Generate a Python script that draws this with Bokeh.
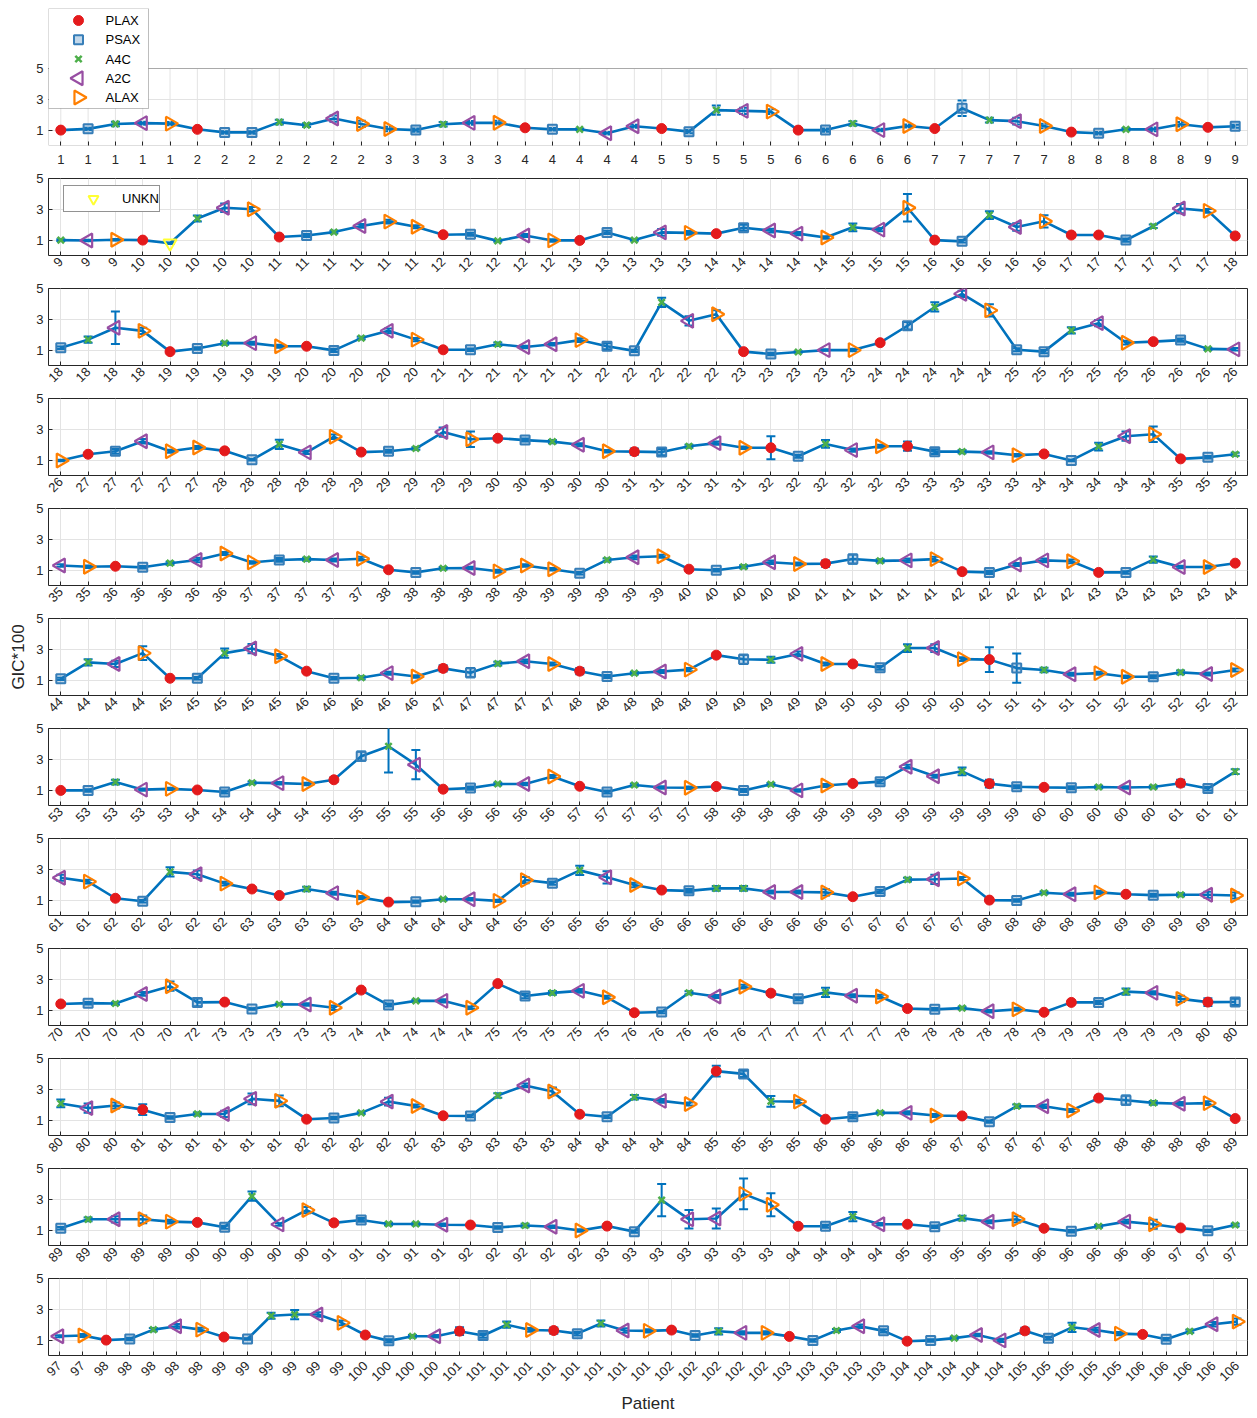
import math

from bokeh.embed import file_html
from bokeh.layouts import column
from bokeh.models import (BoxAnnotation, ColumnDataSource, FixedTicker, Label,
                          Legend, LegendItem, Range1d, TeeHead, Whisker)
from bokeh.plotting import figure
from bokeh.resources import INLINE

FONT = "Liberation Sans"
TEXT = "#262626"
LINE_BLUE = "#0072BD"
GRID = "#e3e3e3"

# ---------------------------------------------------------------------------
# GIC*100 per clip, one block per strip.  patients_* are the tick labels,
# views_* the echo view of each clip, gic_* the value and err_* the half
# length of its error bar.
# ---------------------------------------------------------------------------
patients_01 = "1 1 1 1 1 2 2 2 2 2 2 2 3 3 3 3 3 4 4 4 4 4 5 5 5 5 5 6 6 6 6 6 7 7 7 7 7 8 8 8 8 8 9 9".split()
views_01 = ("PLAX PSAX A4C A2C ALAX PLAX PSAX PSAX A4C A4C A2C ALAX ALAX PSAX A4C A2C ALAX "
            "PLAX PSAX A4C A2C A2C PLAX PSAX A4C A2C ALAX PLAX PSAX A4C A2C ALAX "
            "PLAX PSAX A4C A2C ALAX PLAX PSAX A4C A2C ALAX PLAX PSAX").split()
gic_01 = [1.0, 1.08, 1.4, 1.45, 1.42, 1.05, 0.85, 0.85, 1.52, 1.32, 1.75, 1.4, 1.07, 1.0, 1.38,
          1.47, 1.48, 1.15, 1.05, 1.05, 0.8, 1.25, 1.1, 0.9, 2.3, 2.25, 2.2, 1.0, 1.0, 1.43,
          1.0, 1.27, 1.1, 2.42, 1.65, 1.58, 1.27, 0.87, 0.8, 1.05, 1.05, 1.38, 1.18, 1.25]
err_01 = [0.05, 0.08, 0.15, 0.1, 0.1, 0.08, 0.08, 0.08, 0.15, 0.12, 0.2, 0.2, 0.15, 0.1, 0.15,
          0.12, 0.12, 0.06, 0.08, 0.05, 0.08, 0.1, 0.06, 0.1, 0.3, 0.2, 0.15, 0.06, 0.1, 0.15,
          0.08, 0.1, 0.06, 0.5, 0.15, 0.22, 0.15, 0.05, 0.08, 0.08, 0.12, 0.15, 0.06, 0.1]

patients_02 = "9 9 9 10 10 10 10 10 11 11 11 11 11 11 12 12 12 12 12 13 13 13 13 13 14 14 14 14 14 15 15 15 16 16 16 16 16 17 17 17 17 17 17 18".split()
views_02 = ("A4C A2C ALAX PLAX UNKN A4C A2C ALAX PLAX PSAX A4C A2C ALAX ALAX "
            "PLAX PSAX A4C A2C ALAX PLAX PSAX A4C A2C ALAX PLAX PSAX A2C A2C ALAX "
            "A4C A2C ALAX PLAX PSAX A4C A2C ALAX PLAX PLAX PSAX A4C A2C ALAX PLAX").split()
gic_02 = [1.0, 0.97, 1.02, 1.0, 0.8, 2.4, 3.1, 3.0, 1.2, 1.3, 1.52, 1.92, 2.2, 1.87, 1.35,
          1.38, 0.95, 1.3, 0.98, 0.98, 1.5, 1.0, 1.5, 1.47, 1.42, 1.8, 1.62, 1.42, 1.17, 1.83,
          1.68, 3.1, 1.0, 0.92, 2.62, 1.85, 2.22, 1.33, 1.33, 1.0, 1.9, 3.05, 2.9, 1.27]
err_02 = [0.06, 0.05, 0.05, 0.05, 0.05, 0.2, 0.28, 0.15, 0.08, 0.1, 0.08, 0.12, 0.12, 0.1, 0.08,
          0.1, 0.05, 0.1, 0.08, 0.05, 0.1, 0.05, 0.22, 0.12, 0.08, 0.2, 0.12, 0.1, 0.08, 0.25,
          0.1, 0.9, 0.05, 0.08, 0.25, 0.25, 0.4, 0.15, 0.1, 0.1, 0.12, 0.3, 0.12, 0.1]

patients_03 = "18 18 18 18 19 19 19 19 19 20 20 20 20 20 21 21 21 21 21 21 22 22 22 22 22 23 23 23 23 23 24 24 24 24 24 25 25 25 25 25 26 26 26 26".split()
views_03 = ("PSAX A4C A2C ALAX PLAX PSAX A4C A2C ALAX PLAX PSAX A4C A2C ALAX "
            "PLAX PSAX A4C A2C A2C ALAX PSAX PSAX A4C A2C ALAX PLAX PSAX A4C A2C ALAX "
            "PLAX PSAX A4C A2C ALAX PSAX PSAX A4C A2C ALAX PLAX PSAX A4C A2C").split()
gic_03 = [1.15, 1.68, 2.45, 2.25, 0.9, 1.1, 1.45, 1.45, 1.25, 1.25, 0.98, 1.78, 2.25, 1.68, 1.02,
          1.02, 1.38, 1.2, 1.38, 1.65, 1.25, 0.95, 4.1, 2.9, 3.33, 0.9, 0.75, 0.88, 1.0, 1.0,
          1.48, 2.58, 3.8, 4.65, 3.58, 1.02, 0.9, 2.28, 2.75, 1.48, 1.55, 1.65, 1.08, 1.05]
err_03 = [0.08, 0.2, 1.05, 0.2, 0.05, 0.08, 0.1, 0.1, 0.1, 0.08, 0.1, 0.08, 0.15, 0.1, 0.05,
          0.08, 0.12, 0.08, 0.08, 0.12, 0.2, 0.08, 0.3, 0.3, 0.25, 0.05, 0.08, 0.05, 0.05, 0.08,
          0.1, 0.25, 0.3, 0.2, 0.4, 0.1, 0.1, 0.2, 0.2, 0.12, 0.08, 0.1, 0.08, 0.08]

patients_04 = "26 27 27 27 27 27 28 28 28 28 28 29 29 29 29 29 30 30 30 30 30 31 31 31 31 31 32 32 32 32 32 33 33 33 33 33 34 34 34 34 34 35 35 35".split()
views_04 = ("ALAX PLAX PSAX A2C ALAX ALAX PLAX PSAX A4C A2C ALAX PLAX PSAX A4C A2C ALAX "
            "PLAX PSAX A4C A2C ALAX PLAX PSAX A4C A2C ALAX PLAX PSAX A4C A2C ALAX "
            "PLAX PSAX A4C A2C ALAX PLAX PSAX A4C A2C ALAX PLAX PSAX A4C").split()
gic_04 = [0.97, 1.38, 1.57, 2.22, 1.57, 1.82, 1.6, 1.02, 2.02, 1.5, 2.52, 1.52, 1.57, 1.75, 2.82,
          2.35, 2.42, 2.3, 2.2, 2.0, 1.57, 1.55, 1.52, 1.9, 2.1, 1.8, 1.8, 1.25, 2.05, 1.65,
          1.9, 1.9, 1.55, 1.55, 1.5, 1.32, 1.4, 0.98, 1.88, 2.55, 2.68, 1.08, 1.18, 1.38]
err_04 = [0.05, 0.1, 0.15, 0.15, 0.1, 0.1, 0.12, 0.05, 0.3, 0.1, 0.15, 0.12, 0.1, 0.08, 0.3,
          0.5, 0.15, 0.1, 0.1, 0.1, 0.08, 0.2, 0.2, 0.1, 0.1, 0.08, 0.75, 0.1, 0.25, 0.1,
          0.1, 0.3, 0.15, 0.1, 0.08, 0.08, 0.1, 0.05, 0.25, 0.3, 0.5, 0.05, 0.08, 0.1]

patients_05 = "35 35 36 36 36 36 36 37 37 37 37 37 38 38 38 38 38 38 39 39 39 39 39 40 40 40 40 40 41 41 41 41 41 42 42 42 42 42 43 43 43 43 43 44".split()
views_05 = ("A2C ALAX PLAX PSAX A4C A2C ALAX ALAX PSAX A4C A2C ALAX "
            "PLAX PSAX A4C A2C ALAX ALAX ALAX PSAX A4C A2C ALAX PLAX PSAX A4C A2C ALAX "
            "PLAX PSAX A4C A2C ALAX PLAX PSAX A2C A2C ALAX PLAX PSAX A4C A2C ALAX PLAX").split()
gic_05 = [1.3, 1.22, 1.25, 1.18, 1.45, 1.66, 2.08, 1.5, 1.66, 1.71, 1.66, 1.74, 1.02, 0.85, 1.12,
          1.14, 0.92, 1.3, 1.06, 0.8, 1.66, 1.83, 1.9, 1.06, 0.99, 1.22, 1.51, 1.4, 1.42, 1.72,
          1.6, 1.63, 1.71, 0.9, 0.85, 1.36, 1.63, 1.57, 0.85, 0.85, 1.68, 1.2, 1.2, 1.45]
err_05 = [0.08, 0.08, 0.05, 0.08, 0.1, 0.15, 0.1, 0.08, 0.12, 0.1, 0.1, 0.12, 0.06, 0.08, 0.08,
          0.08, 0.1, 0.08, 0.08, 0.08, 0.1, 0.12, 0.1, 0.05, 0.08, 0.1, 0.12, 0.1, 0.2, 0.3,
          0.1, 0.12, 0.15, 0.06, 0.1, 0.1, 0.12, 0.12, 0.06, 0.08, 0.2, 0.08, 0.1, 0.1]

patients_06 = "44 44 44 44 45 45 45 45 45 46 46 46 46 46 47 47 47 47 47 48 48 48 48 48 49 49 49 49 49 50 50 50 50 50 51 51 51 51 51 52 52 52 52 52".split()
views_06 = ("PSAX A4C A2C ALAX PLAX PSAX A4C A2C ALAX PLAX PSAX A4C A2C ALAX "
            "PLAX PSAX A4C A2C ALAX PLAX PSAX A4C A2C ALAX PLAX PSAX A4C A2C ALAX "
            "PLAX PSAX A4C A2C ALAX PLAX PSAX A4C A2C ALAX ALAX PSAX A4C A2C ALAX").split()
gic_06 = [1.08, 2.15, 2.05, 2.75, 1.12, 1.12, 2.75, 3.05, 2.55, 1.58, 1.12, 1.15, 1.45, 1.23, 1.76,
          1.48, 2.07, 2.22, 2.05, 1.58, 1.23, 1.45, 1.56, 1.68, 2.62, 2.35, 2.32, 2.7, 2.05, 2.05,
          1.8, 3.08, 3.08, 2.36, 2.33, 1.78, 1.66, 1.38, 1.45, 1.22, 1.22, 1.5, 1.4, 1.66]
err_06 = [0.08, 0.2, 0.2, 0.45, 0.05, 0.08, 0.3, 0.3, 0.15, 0.1, 0.08, 0.1, 0.1, 0.08, 0.2,
          0.3, 0.12, 0.12, 0.1, 0.2, 0.1, 0.08, 0.1, 0.1, 0.12, 0.3, 0.2, 0.15, 0.1, 0.12,
          0.12, 0.25, 0.25, 0.12, 0.8, 0.95, 0.15, 0.1, 0.1, 0.08, 0.1, 0.12, 0.1, 0.1]

patients_07 = "53 53 53 53 53 54 54 54 54 54 55 55 55 55 56 56 56 56 56 57 57 57 57 57 58 58 58 58 58 59 59 59 59 59 59 59 60 60 60 60 60 61 61 61".split()
views_07 = ("PLAX PSAX A4C A2C ALAX PLAX PSAX A4C A2C ALAX PLAX PSAX A4C A2C "
            "PLAX PSAX A4C A2C ALAX PLAX PSAX A4C A2C ALAX PLAX PSAX A4C A2C ALAX "
            "PLAX PSAX A2C A2C A4C PLAX PSAX PLAX PSAX A4C A2C A4C PLAX PSAX A4C").split()
gic_07 = [0.98, 0.98, 1.52, 1.03, 1.08, 1.01, 0.88, 1.48, 1.45, 1.4, 1.67, 3.2, 3.85, 2.65, 1.06,
          1.13, 1.4, 1.4, 1.88, 1.25, 0.88, 1.33, 1.17, 1.15, 1.23, 0.97, 1.38, 0.98, 1.3, 1.43,
          1.55, 2.52, 1.9, 2.22, 1.42, 1.22, 1.18, 1.15, 1.2, 1.17, 1.2, 1.45, 1.1, 2.2]
err_07 = [0.05, 0.08, 0.15, 0.08, 0.08, 0.05, 0.1, 0.08, 0.08, 0.08, 0.15, 0.3, 1.7, 0.95, 0.06,
          0.1, 0.08, 0.08, 0.1, 0.08, 0.1, 0.08, 0.08, 0.08, 0.08, 0.1, 0.08, 0.08, 0.1, 0.1,
          0.12, 0.12, 0.1, 0.25, 0.25, 0.1, 0.06, 0.1, 0.08, 0.08, 0.08, 0.22, 0.12, 0.15]

patients_08 = "61 61 62 62 62 62 62 63 63 63 63 63 64 64 64 64 64 65 65 65 65 65 66 66 66 66 66 66 66 67 67 67 67 67 68 68 68 68 68 69 69 69 69 69".split()
views_08 = ("A2C ALAX PLAX PSAX A4C A2C ALAX PLAX PLAX A4C A2C ALAX PLAX PSAX A4C A2C ALAX "
            "ALAX PSAX A4C A2C ALAX PLAX PSAX A4C A4C A2C A2C ALAX PLAX PSAX A4C A2C ALAX "
            "PLAX PSAX A4C A2C ALAX PLAX PSAX A4C A2C ALAX").split()
gic_08 = [2.45, 2.2, 1.12, 0.92, 2.83, 2.68, 2.07, 1.72, 1.3, 1.72, 1.45, 1.17, 0.87, 0.9, 1.06,
          1.06, 0.95, 2.3, 2.1, 2.93, 2.48, 1.98, 1.65, 1.6, 1.76, 1.76, 1.53, 1.53, 1.5, 1.22,
          1.56, 2.33, 2.35, 2.4, 1.0, 0.98, 1.48, 1.38, 1.5, 1.38, 1.32, 1.35, 1.35, 1.3]
err_08 = [0.2, 0.12, 0.06, 0.08, 0.3, 0.25, 0.12, 0.1, 0.06, 0.15, 0.1, 0.1, 0.05, 0.08, 0.08,
          0.08, 0.08, 0.2, 0.1, 0.3, 0.4, 0.15, 0.08, 0.12, 0.15, 0.15, 0.1, 0.1, 0.2, 0.06,
          0.12, 0.12, 0.3, 0.1, 0.08, 0.08, 0.08, 0.1, 0.1, 0.1, 0.1, 0.1, 0.2, 0.2]

patients_09 = "70 70 70 70 70 72 73 73 73 73 73 74 74 74 74 74 75 75 75 75 75 76 76 76 76 76 77 77 77 77 77 78 78 78 78 78 79 79 79 79 79 79 80 80".split()
views_09 = ("PLAX PSAX A4C A2C ALAX PSAX PLAX PSAX A4C A2C ALAX PLAX PSAX A4C A2C ALAX "
            "PLAX PSAX A4C A2C ALAX PLAX PSAX A4C A2C ALAX PLAX PSAX A4C A2C ALAX "
            "PLAX PSAX A4C A2C ALAX PLAX PLAX PSAX A4C A2C ALAX PLAX PSAX").split()
gic_09 = [1.4, 1.45, 1.43, 2.05, 2.55, 1.5, 1.52, 1.07, 1.38, 1.36, 1.15, 2.3, 1.33, 1.6, 1.6,
          1.15, 2.72, 1.92, 2.12, 2.25, 1.83, 0.83, 0.88, 2.13, 1.88, 2.52, 2.1, 1.73, 2.15, 1.93,
          1.88, 1.1, 1.05, 1.13, 0.93, 1.05, 0.86, 1.5, 1.5, 2.2, 2.12, 1.73, 1.52, 1.53]
err_09 = [0.1, 0.08, 0.08, 0.12, 0.3, 0.25, 0.1, 0.05, 0.05, 0.08, 0.15, 0.1, 0.1, 0.08, 0.1,
          0.08, 0.12, 0.15, 0.12, 0.12, 0.1, 0.05, 0.08, 0.1, 0.1, 0.12, 0.1, 0.1, 0.3, 0.1,
          0.12, 0.08, 0.08, 0.08, 0.08, 0.1, 0.05, 0.1, 0.1, 0.2, 0.1, 0.2, 0.25, 0.2]

patients_10 = "80 80 80 81 81 81 81 81 81 82 82 82 82 82 83 83 83 83 83 84 84 84 84 84 85 85 85 85 86 86 86 86 86 87 87 87 87 87 88 88 88 88 88 89".split()
views_10 = ("A4C A2C ALAX PLAX PSAX A4C A2C A2C ALAX PLAX PSAX A4C A2C ALAX "
            "PLAX PSAX A4C A2C ALAX PLAX PSAX A4C A2C ALAX PLAX PSAX A4C ALAX "
            "PLAX PSAX A4C A2C ALAX PLAX PSAX A4C A2C ALAX PLAX PSAX A4C A2C ALAX PLAX").split()
gic_10 = [2.08, 1.78, 1.95, 1.68, 1.17, 1.4, 1.4, 2.38, 2.25, 1.06, 1.14, 1.47, 2.2, 1.92, 1.28,
          1.27, 2.6, 3.25, 2.86, 1.38, 1.22, 2.48, 2.25, 2.05, 4.18, 4.0, 2.22, 2.2, 1.06, 1.22,
          1.48, 1.47, 1.3, 1.27, 0.9, 1.9, 1.9, 1.62, 2.43, 2.29, 2.12, 2.06, 2.1, 1.1]
err_10 = [0.25, 0.3, 0.2, 0.35, 0.08, 0.1, 0.2, 0.35, 0.35, 0.05, 0.08, 0.08, 0.25, 0.1, 0.06,
          0.08, 0.15, 0.12, 0.25, 0.06, 0.08, 0.15, 0.12, 0.1, 0.35, 0.2, 0.35, 0.12, 0.06, 0.12,
          0.08, 0.1, 0.1, 0.08, 0.08, 0.12, 0.12, 0.1, 0.15, 0.3, 0.12, 0.12, 0.12, 0.06]

patients_11 = "89 89 89 89 89 90 90 90 90 90 91 91 91 91 91 92 92 92 92 92 93 93 93 93 93 93 93 94 94 94 94 95 95 95 95 95 96 96 96 96 96 97 97 97".split()
views_11 = ("PSAX A4C A2C ALAX ALAX PLAX PSAX A4C A2C ALAX PLAX PSAX A4C A4C A2C "
            "PLAX PSAX A4C A2C ALAX PLAX PSAX A4C A2C A2C ALAX ALAX PLAX PSAX A4C A2C "
            "PLAX PSAX A4C A2C ALAX PLAX PSAX A4C A2C ALAX PLAX PSAX A4C").split()
gic_11 = [1.12, 1.7, 1.7, 1.7, 1.55, 1.5, 1.18, 3.2, 1.37, 2.3, 1.47, 1.66, 1.4, 1.4, 1.35,
          1.33, 1.17, 1.3, 1.22, 0.97, 1.26, 0.9, 2.95, 1.7, 1.75, 3.35, 2.65, 1.25, 1.25, 1.88,
          1.38, 1.38, 1.22, 1.78, 1.54, 1.7, 1.12, 0.92, 1.25, 1.55, 1.38, 1.14, 0.95, 1.33]
err_11 = [0.08, 0.12, 0.2, 0.25, 0.12, 0.1, 0.1, 0.3, 0.08, 0.2, 0.1, 0.12, 0.08, 0.08, 0.08,
          0.08, 0.08, 0.12, 0.08, 0.08, 0.1, 0.08, 1.05, 0.6, 0.65, 1.0, 0.75, 0.08, 0.1, 0.3,
          0.08, 0.08, 0.08, 0.15, 0.1, 0.2, 0.08, 0.08, 0.08, 0.12, 0.3, 0.08, 0.08, 0.08]

patients_12 = ("97 97 98 98 98 98 98 99 99 99 99 99 99 100 100 100 100 "
               "101 101 101 101 101 101 101 101 101 102 102 102 102 102 103 103 103 103 103 "
               "104 104 104 104 104 105 105 105 105 105 106 106 106 106 106").split()
views_12 = ("A2C ALAX PLAX PSAX A4C A2C ALAX PLAX PSAX A4C A4C A2C ALAX PLAX PSAX A4C A2C "
            "PLAX PSAX A4C ALAX PLAX PSAX A4C A2C ALAX PLAX PSAX A4C A2C ALAX "
            "PLAX PSAX A4C A2C PSAX PLAX PSAX A4C A2C A2C PLAX PSAX A4C A2C ALAX "
            "PLAX PSAX A4C A2C ALAX").split()
gic_12 = [1.25, 1.3, 1.0, 1.07, 1.68, 1.9, 1.68, 1.2, 1.07, 2.58, 2.66, 2.66, 2.12, 1.33, 0.95,
          1.25, 1.25, 1.58, 1.3, 2.0, 1.66, 1.62, 1.42, 2.08, 1.62, 1.6, 1.65, 1.3, 1.57, 1.47,
          1.47, 1.24, 0.98, 1.62, 1.9, 1.6, 0.93, 0.98, 1.13, 1.33, 0.98, 1.6, 1.12, 1.83, 1.66,
          1.42, 1.37, 1.05, 1.57, 2.03, 2.2]
err_12 = [0.06, 0.1, 0.05, 0.08, 0.1, 0.15, 0.12, 0.08, 0.05, 0.2, 0.3, 0.15, 0.15, 0.1, 0.1,
          0.08, 0.08, 0.25, 0.15, 0.2, 0.12, 0.2, 0.12, 0.2, 0.15, 0.1, 0.15, 0.08, 0.2, 0.1,
          0.1, 0.08, 0.08, 0.1, 0.12, 0.1, 0.05, 0.08, 0.08, 0.08, 0.1, 0.2, 0.1, 0.3, 0.15,
          0.1, 0.1, 0.08, 0.1, 0.15, 0.2]

ROWS = [
    (patients_01, views_01, gic_01, err_01),
    (patients_02, views_02, gic_02, err_02),
    (patients_03, views_03, gic_03, err_03),
    (patients_04, views_04, gic_04, err_04),
    (patients_05, views_05, gic_05, err_05),
    (patients_06, views_06, gic_06, err_06),
    (patients_07, views_07, gic_07, err_07),
    (patients_08, views_08, gic_08, err_08),
    (patients_09, views_09, gic_09, err_09),
    (patients_10, views_10, gic_10, err_10),
    (patients_11, views_11, gic_11, err_11),
    (patients_12, views_12, gic_12, err_12),
]

VIEW_ORDER = ["PLAX", "PSAX", "A4C", "A2C", "ALAX", "UNKN"]
LEGEND_VIEWS = ["PLAX", "PSAX", "A4C", "A2C", "ALAX"]
VIEW_STYLE = {
    "PLAX": dict(marker="circle", size=10, angle=0.0, line_color="#e41a1c",
                 fill_color="#e41a1c", line_width=1),
    "PSAX": dict(marker="square", size=9, angle=0.0, line_color="#377eb8",
                 fill_color="#377eb8", fill_alpha=0.3, line_width=2),
    "A4C": dict(marker="x", size=9, angle=0.0, line_color="#4daf4a", line_width=2.5),
    "A2C": dict(marker="triangle", size=14, angle=math.pi / 2, line_color="#984ea3",
                fill_color=None, line_width=2.2),
    "ALAX": dict(marker="triangle", size=14, angle=-math.pi / 2, line_color="#ff7f00",
                 fill_color=None, line_width=2.2),
    "UNKN": dict(marker="inverted_triangle", size=13, angle=0.0, line_color="#ffff33",
                 fill_color=None, line_width=2),
}

N_ROWS = len(ROWS)
FIG_W = 1257
LEFT, RIGHT = 48, 10          # frame spans x = 48 .. 1247
STRIP_H = 77                  # height of the 0..5 band of each strip
PAD = 0.45                    # x padding around the first/last clip
Y_MAX = 5.0


def build_row(k, patients, views, gic, err):
    n = len(gic)
    if not (len(patients) == len(views) == len(err) == n):
        raise ValueError(f"strip {k + 1}: column lengths differ")
    first = k == 0
    last = k == N_ROWS - 1

    # The first strip gets a taller frame so that the key box, which sits
    # above the strip, is drawn inside the plotting area.
    top = 8 if first else 7
    frame_h = 137 if first else STRIP_H
    bottom = 63 if last else 26
    y_end = Y_MAX * frame_h / STRIP_H

    xs = list(range(1, n + 1))
    p = figure(width=FIG_W, height=top + frame_h + bottom, title=None,
               output_backend="svg", toolbar_location=None,
               x_range=Range1d(1 - PAD, n + PAD), y_range=Range1d(0, y_end),
               min_border_left=LEFT, min_border_right=RIGHT,
               min_border_top=top, min_border_bottom=bottom)
    p.background_fill_color = "white"
    p.border_fill_color = "white"

    # axes
    p.xaxis.ticker = FixedTicker(ticks=xs)
    p.xaxis.major_label_overrides = {x: lab for x, lab in zip(xs, patients)}
    p.yaxis.ticker = FixedTicker(ticks=[1, 3, 5])
    for ax in (p.xaxis[0], p.yaxis[0]):
        ax.axis_line_color = None
        ax.major_tick_in = 4
        ax.major_tick_out = 0
        ax.major_tick_line_color = TEXT
        ax.minor_tick_line_color = None
        ax.major_label_text_font = FONT
        ax.major_label_text_font_size = "13px"
        ax.major_label_text_color = TEXT
        ax.axis_label_text_font = FONT
        ax.axis_label_text_font_style = "normal"
        ax.axis_label_text_color = TEXT
        ax.axis_label_text_font_size = "17px"
    p.yaxis.major_label_standoff = 5
    if first:
        p.xaxis.major_label_orientation = "horizontal"
        p.xaxis.major_label_standoff = 9
    else:
        p.xaxis.major_label_orientation = math.pi / 4
        p.xaxis.major_label_standoff = 8 if last else 4
    if k == 5:
        p.yaxis.axis_label = "GIC*100"
        p.yaxis.axis_label_standoff = 5
    if last:
        p.xaxis.axis_label = "Patient"
        p.xaxis.axis_label_standoff = 6
    p.ygrid.grid_line_color = GRID

    if first:
        # grid and box limited to the 0..5 band
        p.outline_line_color = None
        p.xgrid.visible = False
        p.segment(x0=xs, y0=[0] * n, x1=xs, y1=[Y_MAX] * n, line_color=GRID, line_width=1)
        p.add_layout(BoxAnnotation(bottom=0, top=Y_MAX, fill_color=None,
                                   line_color=TEXT, line_width=1))
    else:
        p.outline_line_color = TEXT
        p.outline_line_width = 1
        p.xgrid.grid_line_color = GRID

    src = ColumnDataSource(dict(
        x=xs, y=gic,
        lo=[g - e for g, e in zip(gic, err)],
        hi=[g + e for g, e in zip(gic, err)],
    ))
    p.line("x", "y", source=src, line_color=LINE_BLUE, line_width=2.6)
    bars = Whisker(source=src, base="x", lower="lo", upper="hi",
                   line_color=LINE_BLUE, line_width=2, level="underlay",
                   lower_head=TeeHead(size=9, line_color=LINE_BLUE, line_width=2),
                   upper_head=TeeHead(size=9, line_color=LINE_BLUE, line_width=2))
    p.add_layout(bars)

    by_view = {}
    for v in VIEW_ORDER:
        idx = [i for i, vv in enumerate(views) if vv == v]
        if not idx:
            continue
        by_view[v] = p.scatter(x=[xs[i] for i in idx], y=[gic[i] for i in idx],
                               **VIEW_STYLE[v])
    return p, by_view, (top, frame_h, n)


def add_view_key(p, geom):
    """Key of the five views, boxed, overlapping the top-left of the strip."""
    top, frame_h, n = geom
    px_x = (FIG_W - LEFT - RIGHT) / (n - 1 + 2 * PAD)
    px_y = STRIP_H / Y_MAX
    frame_bottom = top + frame_h

    def to_x(sx):
        return 1 - PAD + (sx - LEFT) / px_x

    def to_y(sy):
        return (frame_bottom - sy) / px_y

    box_left, box_right, box_top, box_bottom = LEFT, LEFT + 100, top, top + 100
    p.add_layout(BoxAnnotation(left=to_x(box_left), right=to_x(box_right),
                               bottom=to_y(box_bottom), top=to_y(box_top),
                               fill_color="white", fill_alpha=1.0,
                               line_color=TEXT, line_width=1))
    step = 19.25
    for i, v in enumerate(LEGEND_VIEWS):
        sy = box_top + 12 + step * i
        p.scatter(x=[to_x(box_left + 30)], y=[to_y(sy)], level="overlay", **VIEW_STYLE[v])
        p.add_layout(Label(x=to_x(box_left + 57), y=to_y(sy), text=v,
                           text_font=FONT, text_font_size="13px", text_color="black",
                           text_baseline="middle", text_align="left", level="overlay"))


figs = []
for k, (pat, vw, g, e) in enumerate(ROWS):
    fig, rends, geom = build_row(k, pat, vw, g, e)
    if k == 0:
        add_view_key(fig, geom)
    if k == 1:
        leg2 = Legend(items=[LegendItem(label="UNKN", renderers=[rends["UNKN"]])],
                      location=(15, 43), padding=0, spacing=0,
                      glyph_width=58, glyph_height=25, label_height=25,
                      label_standoff=-2, margin=0,
                      label_text_font=FONT, label_text_font_size="13px",
                      label_text_color="black",
                      border_line_color=TEXT, border_line_width=1,
                      background_fill_color="white", background_fill_alpha=1.0)
        fig.add_layout(leg2)
    figs.append(fig)

layout = column(*figs, spacing=0)
open("out.html", "w").write(file_html(layout, INLINE))
